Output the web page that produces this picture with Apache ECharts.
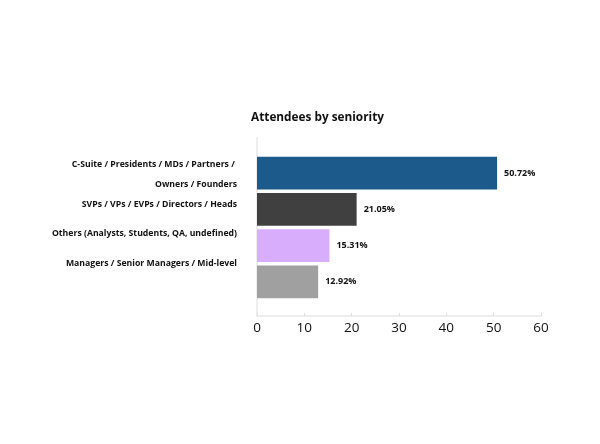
<!DOCTYPE html>
<html><head><meta charset="utf-8">
<script src="https://cdn.jsdelivr.net/npm/echarts@6/dist/echarts.min.js"></script>
<style>html,body{margin:0;padding:0;background:#fff}#c{width:600px;height:444px}</style>
</head><body><div id="c"></div>
<script>
const categories = [
  "C-Suite / Presidents / MDs / Partners / \nOwners / Founders",
  "SVPs / VPs / EVPs / Directors / Heads",
  "Others (Analysts, Students, QA, undefined)",
  "Managers / Senior Managers / Mid-level"
];
const values = [50.72, 21.05, 15.31, 12.92];
const barColors = ["#1b5a8a", "#404040", "#d8aefc", "#a0a0a0"];
const xTicks = { min: 0, max: 60, interval: 10 };
const titleText = "Attendees by seniority";

const FONT = '"Open Sans", "Noto Sans", sans-serif';
const chart = echarts.init(document.getElementById('c'), null, { renderer: 'canvas' });
chart.setOption({
  animation: false,
  backgroundColor: '#fff',
  title: {
    text: titleText, left: 246, top: 107,
    textStyle: { fontFamily: FONT, fontSize: 11.8, fontWeight: 'bold', color: '#111' }
  },
  grid: [
    { left: 257, width: 284, top: 138, height: 178 },
    { left: 257, width: 284, top: 155, height: 145 },
    { left: 257, width: 284, top: 160, height: 118 }
  ],
  xAxis: [
    { gridIndex: 0, type: 'value', min: xTicks.min, max: xTicks.max, interval: xTicks.interval,
      axisLine: { show: true, lineStyle: { color: '#e8e8e8', width: 1.5 } },
      axisTick: { show: true, length: 3, inside: true, lineStyle: { color: '#e0e0e0' } },
      axisLabel: { fontFamily: FONT, fontSize: 13.5, color: '#111', margin: 5 },
      splitLine: { show: false } },
    { gridIndex: 1, type: 'value', min: xTicks.min, max: xTicks.max, show: false },
    { gridIndex: 2, type: 'value', min: xTicks.min, max: xTicks.max, show: false }
  ],
  yAxis: [
    { gridIndex: 0, type: 'value', min: 0, max: 1,
      axisLine: { show: true, lineStyle: { color: '#eeeeee', width: 2 } },
      axisTick: { show: false }, axisLabel: { show: false }, splitLine: { show: false } },
    { gridIndex: 1, type: 'category', data: categories, inverse: true, show: false },
    { gridIndex: 2, type: 'category', data: categories, inverse: true,
      axisLine: { show: false }, axisTick: { show: false },
      axisLabel: { interval: 0, fontFamily: FONT, fontSize: 8.7, fontWeight: 'bold', color: '#111', margin: 20, lineHeight: 20 } }
  ],
  series: [{
    type: 'bar', xAxisIndex: 1, yAxisIndex: 1,
    data: values.map((v, i) => ({ value: v, itemStyle: { color: barColors[i] } })),
    barCategoryGap: '10%',
    label: { show: true, position: 'right', distance: 7, formatter: p => p.value.toFixed(2) + '%',
      fontFamily: FONT, fontSize: 9, fontWeight: 'bold', color: '#111' }
  }]
});
</script></body></html>
